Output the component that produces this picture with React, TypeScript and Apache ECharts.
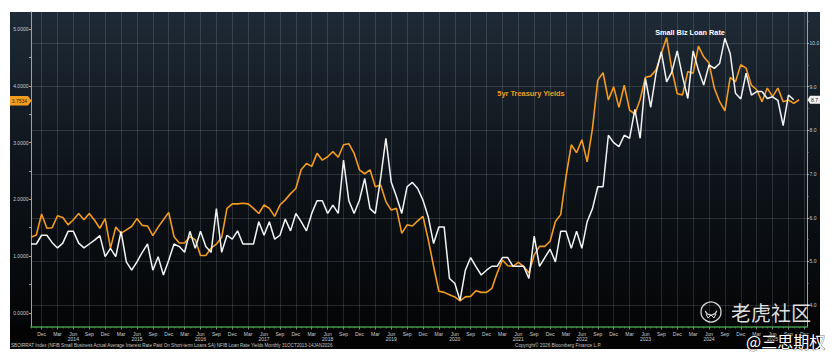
import React, { useEffect, useRef } from 'react';
import * as echarts from 'echarts';

// ---------- categories / tick labels ----------
const MONTH_NAMES = ['Jan', 'Feb', 'Mar', 'Apr', 'May', 'Jun', 'Jul', 'Aug', 'Sep', 'Oct', 'Nov', 'Dec'];
const QUARTER_LABEL_MONTHS = ['Dec', 'Mar', 'Jun', 'Sep'];
const YEAR_LABEL_MONTH = 'Jun';
const START_YEAR = 2013;
const START_MONTH = 9; // Oct (index 0 = 31 Oct 2013)
const MONTH_COUNT = 147; // Oct 2013 .. Dec 2025
const X_MAX = 146.5; // 14 Jan 2026
const MONTHS: { m: string; y: number }[] = [];
for (let k = 0; k < MONTH_COUNT; k++) {
  const t = START_MONTH + k;
  MONTHS.push({ m: MONTH_NAMES[t % 12], y: START_YEAR + Math.floor(t / 12) });
}
const LEFT_LABELS = [0, 1, 2, 3, 4, 5];
const LEFT_TICKS = [0, 0.5, 1, 1.5, 2, 2.5, 3, 3.5, 4, 4.5, 5];
const RIGHT_LABELS = [4, 5, 6, 7, 8, 9, 10];
const RIGHT_HALF_TICKS = [4.5, 5.5, 6.5, 7.5, 8.5, 9.5, 10.5];

// ---------- series values (monthly, from Oct 2013) ----------
const TREASURY_5Y = [
  1.33, 1.37, 1.74, 1.49, 1.50, 1.71, 1.68, 1.55, 1.64, 1.75, 1.64, 1.75, 1.63, 1.49, 1.66, 1.14, 1.51, 1.40, 1.46, 1.52,
  1.66, 1.54, 1.53, 1.36, 1.51, 1.64, 1.77, 1.34, 1.23, 1.23, 1.34, 1.29, 1.01, 1.01, 1.14, 1.21, 1.33, 1.84,
  1.92, 1.92, 1.93, 1.92, 1.84, 1.75, 1.90, 1.84, 1.70, 1.90, 1.99, 2.10, 2.19, 2.52, 2.63, 2.58, 2.81, 2.69,
  2.75, 2.84, 2.74, 2.96, 2.98, 2.81, 2.52, 2.45, 2.52, 2.22, 2.25, 1.96, 1.81, 1.84, 1.40, 1.55, 1.53, 1.62,
  1.70, 1.29, 0.82, 0.38, 0.36, 0.32, 0.28, 0.21, 0.28, 0.29, 0.39, 0.36, 0.36, 0.43, 0.70, 0.93, 0.83, 0.82,
  0.89, 0.82, 0.70, 1.02, 1.17, 1.17, 1.26, 1.61, 1.73, 2.40, 2.96, 2.82, 3.05, 2.66, 3.25, 4.10, 4.23, 3.75,
  3.98, 3.62, 4.01, 3.57, 3.50, 3.76, 4.15, 4.17, 4.28, 4.57, 4.85, 4.28, 3.86, 3.84, 4.25, 4.22, 4.70, 4.51,
  4.40, 3.96, 3.72, 3.56, 4.15, 4.07, 4.37, 4.31, 4.01, 3.93, 3.72, 3.96, 3.81, 3.96, 3.72, 3.75, 3.69, 3.7534,
];
const LOAN_RATE = [
  5.40, 5.40, 5.60, 5.60, 5.43, 5.31, 5.42, 5.69, 5.69, 5.42, 5.31, 5.40, 5.49, 5.59, 5.11, 5.30, 5.11, 5.69, 4.99, 4.80,
  4.99, 5.21, 5.40, 4.80, 5.11, 4.69, 5.03, 5.40, 5.34, 5.21, 5.69, 5.30, 5.69, 5.34, 5.21, 6.21, 5.21, 5.60,
  5.51, 5.70, 5.40, 5.40, 5.40, 5.91, 5.60, 5.91, 5.51, 5.60, 5.97, 5.70, 6.10, 5.91, 5.70, 6.10, 6.39, 6.39,
  6.10, 6.29, 6.10, 7.32, 6.39, 6.10, 6.40, 6.90, 6.21, 6.10, 6.90, 7.82, 6.82, 6.48, 6.10, 6.71, 6.81, 6.67,
  6.40, 6.02, 5.41, 5.79, 5.79, 4.61, 4.50, 4.11, 4.80, 5.09, 4.88, 4.69, 4.80, 4.89, 4.89, 5.09, 5.09, 4.89,
  4.89, 4.89, 4.61, 5.58, 4.89, 5.09, 5.28, 4.99, 5.69, 5.69, 5.30, 5.69, 5.30, 5.91, 6.21, 6.71, 6.71, 7.89,
  7.72, 7.63, 7.89, 7.82, 8.48, 7.82, 9.19, 8.53, 9.31, 9.80, 9.11, 9.34, 9.82, 9.23, 8.73, 9.82, 9.38, 9.04,
  9.50, 9.42, 9.53, 10.11, 9.76, 8.85, 8.72, 9.31, 8.81, 8.89, 8.89, 8.73, 8.77, 8.69, 8.11, 8.81, 8.70,
];

const SERIES_NAMES = ['5yr Treasury Yields', 'Small Biz Loan Rate'];
const FOOTER_LEFT =
  'SBOIRRAT Index (NFIB Small Business Actual Average Interest Rate Paid On Short-term Loans SA) NFIB Loan Rate Yields Monthly 31OCT2013-14JAN2026';
const FOOTER_COPY = 'Copyright\u00A9 2026 Bloomberg Finance L.P.';

const ORANGE = '#f29b1d';
const WHITE = '#f4f4f4';
const FONT = '"Liberation Sans", Arial, sans-serif';
const CJK = '"Noto Sans CJK SC", sans-serif';
const GRID_LINE = 'rgba(255,255,255,0.13)';

const QUARTER_IDX: number[] = [];
MONTHS.forEach((d, i) => {
  if (QUARTER_LABEL_MONTHS.includes(d.m)) QUARTER_IDX.push(i);
});
const MONTH_IDX = MONTHS.map((_, i) => i);

function buildOption() {
  return {
    animation: false,
    backgroundColor: '#ffffff',
    textStyle: { fontFamily: FONT },
    grid: { left: 31, right: 25, top: 12, bottom: 33, containLabel: false },
    xAxis: [
      {
        type: 'value',
        min: 0,
        max: X_MAX,
        position: 'bottom',
        axisLine: { show: true, onZero: false, lineStyle: { color: '#3f9b43', width: 1.6 } },
        axisTick: { show: true, customValues: QUARTER_IDX, length: 2.5, lineStyle: { color: '#9aa4a0', width: 0.8 } },
        axisLabel: {
          show: true,
          customValues: QUARTER_IDX,
          fontSize: 5,
          lineHeight: 5.6,
          margin: 4,
          color: '#c9cdd0',
          fontFamily: FONT,
          formatter: (v: number) => {
            const d = MONTHS[Math.round(v)];
            if (!d) return '';
            return d.m === YEAR_LABEL_MONTH ? d.m + '\n' + d.y : d.m;
          },
        },
        splitLine: { show: true, lineStyle: { color: GRID_LINE, width: 1 } },
      },
      {
        type: 'value',
        min: 0,
        max: X_MAX,
        position: 'bottom',
        axisLine: { show: false, onZero: false },
        axisTick: { show: true, customValues: MONTH_IDX, length: 1.5, lineStyle: { color: '#7d8a80', width: 0.6 } },
        axisLabel: { show: false },
        splitLine: { show: false },
      },
    ],
    yAxis: [
      {
        type: 'value',
        position: 'left',
        min: -0.25,
        max: 5.3,
        axisLine: { show: true, onZero: false, lineStyle: { color: '#9aa3ab', width: 1 } },
        axisTick: { show: true, customValues: LEFT_TICKS, length: 2, lineStyle: { color: '#c0c6cc', width: 0.8 } },
        axisLabel: {
          show: true,
          customValues: LEFT_LABELS,
          formatter: (v: number) => v.toFixed(4),
          fontSize: 5,
          margin: 2.5,
          color: '#c9cdd1',
          fontFamily: FONT,
        },
        splitLine: { show: false },
      },
      {
        type: 'value',
        position: 'right',
        min: 3.5,
        max: 10.71,
        axisLine: { show: true, onZero: false, lineStyle: { color: '#9aa3ab', width: 1 } },
        axisTick: { show: true, customValues: RIGHT_LABELS, length: 2, lineStyle: { color: '#c0c6cc', width: 0.8 } },
        axisLabel: {
          show: true,
          customValues: RIGHT_LABELS,
          formatter: (v: number) => v.toFixed(1),
          fontSize: 5,
          margin: 2.5,
          color: '#c9cdd1',
          fontFamily: FONT,
        },
        splitLine: { show: true, lineStyle: { color: GRID_LINE, width: 1 } },
      },
      {
        type: 'value',
        position: 'right',
        min: 3.5,
        max: 10.71,
        axisLine: { show: false, onZero: false },
        axisTick: { show: true, customValues: RIGHT_HALF_TICKS, length: 1.5, lineStyle: { color: '#9aa3ab', width: 0.8 } },
        axisLabel: { show: false },
        splitLine: { show: false },
      },
    ],
    series: [
      {
        type: 'line',
        name: SERIES_NAMES[0],
        xAxisIndex: 0,
        yAxisIndex: 0,
        data: TREASURY_5Y.map((v, i) => [i, v]),
        symbol: 'none',
        showSymbol: false,
        lineStyle: { color: ORANGE, width: 1.6 },
        itemStyle: { color: ORANGE },
        z: 3,
      },
      {
        type: 'line',
        name: SERIES_NAMES[1],
        xAxisIndex: 0,
        yAxisIndex: 1,
        data: LOAN_RATE.map((v, i) => [i, v]),
        symbol: 'none',
        showSymbol: false,
        lineStyle: { color: WHITE, width: 1.5 },
        itemStyle: { color: WHITE },
        z: 4,
      },
    ],
  };
}

function buildGraphics(yT: number, yL: number, lastT: number, lastL: number) {
  return [
    {
      type: 'rect',
      silent: true,
      z: -10,
      shape: { x: 10, y: 12, width: 810, height: 315 },
      style: {
        fill: {
          type: 'linear', x: 0, y: 0, x2: 0, y2: 1,
          colorStops: [
            { offset: 0, color: '#1e2a36' },
            { offset: 0.5, color: '#0e141a' },
            { offset: 1, color: '#040506' },
          ],
        },
      },
    },
    {
      type: 'rect',
      silent: true,
      z: -10,
      shape: { x: 10, y: 327, width: 810, height: 22 },
      style: { fill: '#030303' },
    },
    {
      type: 'text', z: 50, silent: true, x: 11, y: 345.5,
      style: { text: FOOTER_LEFT, fontSize: 4.6, fontFamily: FONT, fill: '#c4c4c4', verticalAlign: 'middle', align: 'left' },
    },
    {
      type: 'text', z: 50, silent: true, x: 515, y: 345.5,
      style: { text: FOOTER_COPY, fontSize: 4.7, fontFamily: FONT, fill: '#c4c4c4', verticalAlign: 'middle', align: 'left' },
    },
    {
      type: 'text', z: 50, silent: true, x: 690, y: 32,
      style: { text: SERIES_NAMES[1], fontSize: 7.3, fontWeight: 'bold', fontFamily: FONT, fill: '#ffffff', align: 'center', verticalAlign: 'middle' },
    },
    {
      type: 'text', z: 50, silent: true, x: 531, y: 93,
      style: { text: SERIES_NAMES[0], fontSize: 7.4, fontWeight: 'bold', fontFamily: FONT, fill: ORANGE, align: 'center', verticalAlign: 'middle' },
    },
    // last-value tags
    {
      type: 'polygon', z: 60, silent: true,
      shape: { points: [[10, yT - 4.8], [28, yT - 4.8], [31.5, yT], [28, yT + 4.8], [10, yT + 4.8]] },
      style: { fill: '#f59d1f' },
    },
    {
      type: 'text', z: 61, silent: true, x: 19.5, y: yT,
      style: { text: lastT.toFixed(4), fontSize: 5, fontFamily: FONT, fill: '#3a2400', align: 'center', verticalAlign: 'middle' },
    },
    {
      type: 'polygon', z: 60, silent: true,
      shape: { points: [[807.5, yL], [810, yL - 4], [820, yL - 4], [820, yL + 4], [810, yL + 4]] },
      style: { fill: '#f2f2f2' },
    },
    {
      type: 'text', z: 61, silent: true, x: 814.5, y: yL,
      style: { text: lastL.toFixed(1), fontSize: 5, fontFamily: FONT, fill: '#222', align: 'center', verticalAlign: 'middle' },
    },
    // watermark
    {
      type: 'circle', z: 80, silent: true,
      shape: { cx: 711, cy: 312, r: 10 },
      style: { fill: 'none', stroke: 'rgba(255,255,255,0.85)', lineWidth: 1.3 },
    },
    {
      type: 'arc', z: 80, silent: true,
      shape: { cx: 711, cy: 309, r: 6, startAngle: 0.3, endAngle: 2.8 },
      style: { fill: 'none', stroke: 'rgba(255,255,255,0.85)', lineWidth: 1.2 },
    },
    {
      type: 'polyline', z: 80, silent: true,
      shape: { points: [[706, 314], [708, 318], [711, 315], [714, 318], [716, 314]] },
      style: { fill: 'none', stroke: 'rgba(255,255,255,0.85)', lineWidth: 1 },
    },
    {
      type: 'text', z: 80, silent: true, x: 731, y: 312,
      style: { text: '老虎社区', fontSize: 20, fontFamily: CJK, fill: 'rgba(255,255,255,0.88)', align: 'left', verticalAlign: 'middle' },
    },
    {
      type: 'text', z: 80, silent: true, x: 746, y: 341,
      style: {
        text: '@三思期权', fontSize: 16, fontFamily: CJK, fill: '#ffffff',
        stroke: 'rgba(0,0,0,0.55)', lineWidth: 1, align: 'left', verticalAlign: 'middle',
      },
    },
  ];
}

export default function App() {
  const ref = useRef<HTMLDivElement>(null);
  useEffect(() => {
    const el = ref.current;
    if (!el) return;
    const chart = echarts.init(el, null, { renderer: 'svg' });
    chart.setOption(buildOption() as any);
    const lastT = TREASURY_5Y[TREASURY_5Y.length - 1];
    const lastL = LOAN_RATE[LOAN_RATE.length - 1];
    const yT = chart.convertToPixel({ yAxisIndex: 0 } as any, lastT) as unknown as number;
    const yL = chart.convertToPixel({ yAxisIndex: 1 } as any, lastL) as unknown as number;
    chart.setOption({ graphic: buildGraphics(yT + 1, yL, lastT, lastL) } as any);
    return () => chart.dispose();
  }, []);
  return (
    <div
      ref={ref}
      style={{ position: 'absolute', left: 0, top: 0, width: 832, height: 360 }}
    />
  );
}
